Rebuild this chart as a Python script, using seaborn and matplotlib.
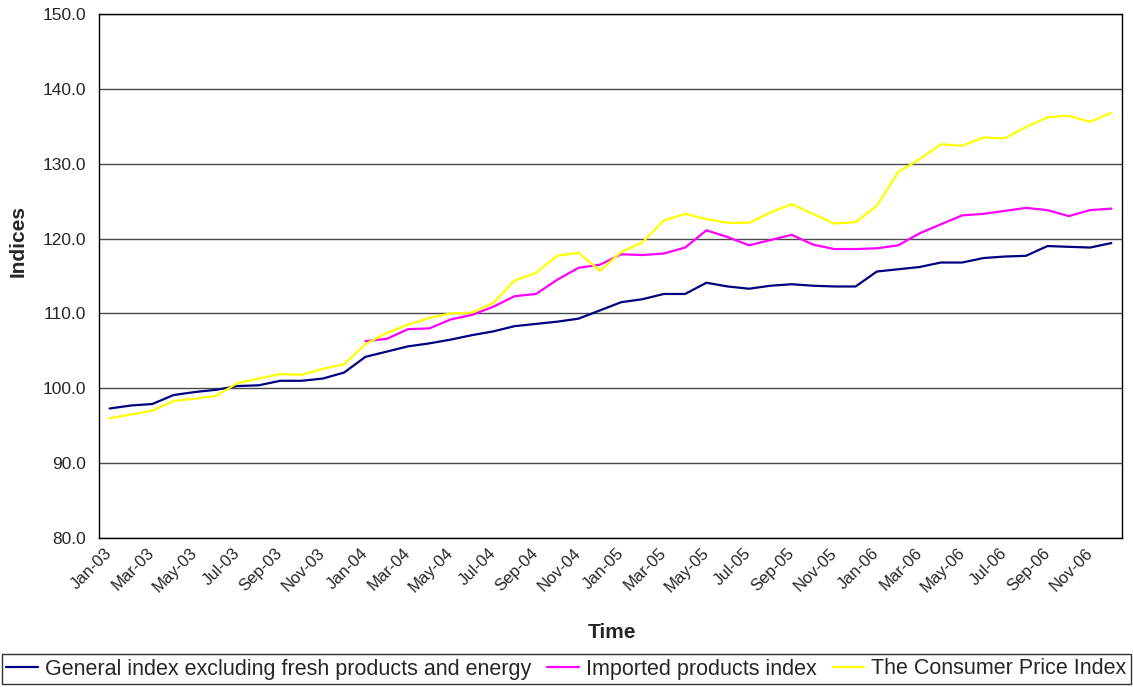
import numpy as np
import pandas as pd
import matplotlib
matplotlib.use("Agg")
import matplotlib.pyplot as plt
import matplotlib.transforms as mtransforms
from matplotlib.lines import Line2D
import seaborn as sns

# Monthly categories, Jan-03 .. Dec-06
months = pd.date_range("2003-01-01", periods=48, freq="MS")
month_labels = [d.strftime("%b-%y") for d in months]

general_index = [
    97.3, 97.7, 97.9, 99.1, 99.5, 99.8, 100.3, 100.4, 101.0, 101.0, 101.3, 102.1,
    104.2, 104.9, 105.6, 106.0, 106.5, 107.1, 107.6, 108.3, 108.6, 108.9, 109.3, 110.4,
    111.5, 111.9, 112.6, 112.6, 114.1, 113.6, 113.3, 113.7, 113.9, 113.7, 113.6, 113.6,
    115.6, 115.9, 116.2, 116.8, 116.8, 117.4, 117.6, 117.7, 119.0, 118.9, 118.8, 119.4,
]
imported_index = [np.nan] * 12 + [
    106.3, 106.6, 107.9, 108.0, 109.2, 109.8, 110.9, 112.3, 112.6, 114.5, 116.1, 116.5,
    117.9, 117.8, 118.0, 118.8, 121.1, 120.2, 119.1, 119.8, 120.5, 119.2, 118.6, 118.6,
    118.7, 119.1, 120.7, 121.9, 123.1, 123.3, 123.7, 124.1, 123.8, 123.0, 123.8, 124.0,
]
consumer_price_index = [
    96.0, 96.5, 97.0, 98.3, 98.6, 99.0, 100.7, 101.3, 101.9, 101.8, 102.6, 103.2,
    105.9, 107.4, 108.5, 109.4, 110.0, 110.1, 111.4, 114.4, 115.4, 117.7, 118.1, 115.7,
    118.2, 119.5, 122.4, 123.3, 122.6, 122.1, 122.1, 123.5, 124.6, 123.3, 122.0, 122.2,
    124.4, 128.9, 130.6, 132.6, 132.4, 133.5, 133.4, 134.9, 136.2, 136.4, 135.6, 136.8,
]

series_names = [
    "General index excluding fresh products and energy",
    "Imported products index",
    "The Consumer Price Index",
]
series_colors = ["#000080", "#FF00FF", "#FFFF00"]
y_ticks = [80, 90, 100, 110, 120, 130, 140, 150]

wide = pd.DataFrame({
    "pos": np.arange(len(months)),
    series_names[0]: general_index,
    series_names[1]: imported_index,
    series_names[2]: consumer_price_index,
})
df = wide.melt(id_vars="pos", var_name="series", value_name="value").dropna()

sns.set_style("white")
plt.rcParams["font.family"] = ["Liberation Sans", "DejaVu Sans"]

W, H = 1133, 687
fig = plt.figure(figsize=(W / 100, H / 100), dpi=100)
ax = fig.add_axes([99 / W, 149 / H, 1023 / W, 524 / H])

sns.lineplot(
    data=df, x="pos", y="value", hue="series", hue_order=series_names,
    palette=dict(zip(series_names, series_colors)), linewidth=1.6,
    estimator=None, sort=False, legend=False, ax=ax,
)

ax.set_xlim(-0.5, len(months) - 0.5)
ax.set_ylim(80, 150)
ax.set_yticks(y_ticks)
ax.set_yticklabels([f"{v:.1f}" for v in y_ticks], fontsize=12.5)
ax.yaxis.grid(True, color="#4a4a4a", linewidth=1.0)
ax.xaxis.grid(False)
ax.set_axisbelow(True)

# tick marks on category boundaries, labels on every second category
ax.set_xticks(np.arange(-0.5, len(months), 2))
ax.set_xticklabels([])
ax.set_xticks(np.arange(0, len(months), 2), minor=True)
ax.set_xticklabels(month_labels[::2], minor=True, rotation=45, ha="right",
                   va="center", rotation_mode="anchor", fontsize=12)
shift = mtransforms.ScaledTranslation(-4 / 100, 0, fig.dpi_scale_trans)
for lbl in ax.get_xticklabels(minor=True):
    lbl.set_transform(lbl.get_transform() + shift)
ax.tick_params(axis="x", which="major", direction="out", length=3.6, width=1.0, color="black")
ax.tick_params(axis="x", which="minor", length=0, pad=9)
ax.tick_params(axis="y", direction="out", length=3.6, width=1.0, color="black", pad=5.5)

for s in ax.spines.values():
    s.set_visible(True)
    s.set_color("black")
    s.set_linewidth(1.0)

ax.set_xlabel("")
ax.set_ylabel("")
fig.text(612 / W, 1 - 632 / H, "Time", ha="center", va="center",
         fontsize=15, fontweight="bold")
fig.text(18 / W, 1 - 241 / H, "Indices", ha="center", va="center",
         rotation=90, fontsize=15, fontweight="bold")

handles = [Line2D([], [], color=c, linewidth=1.6) for c in series_colors]
leg = fig.legend(
    handles, series_names, loc="center",
    bbox_to_anchor=(2 / W, 1 - 685 / H, 1129 / W, 32 / H), mode="expand",
    ncol=3, frameon=True, fancybox=False, fontsize=15.5,
    handlelength=1.45, handletextpad=0.33, borderpad=0.2, borderaxespad=0,
)
leg.get_frame().set_edgecolor("black")
leg.get_frame().set_linewidth(1.0)

fig.savefig("out.png", dpi=100, facecolor="white")
